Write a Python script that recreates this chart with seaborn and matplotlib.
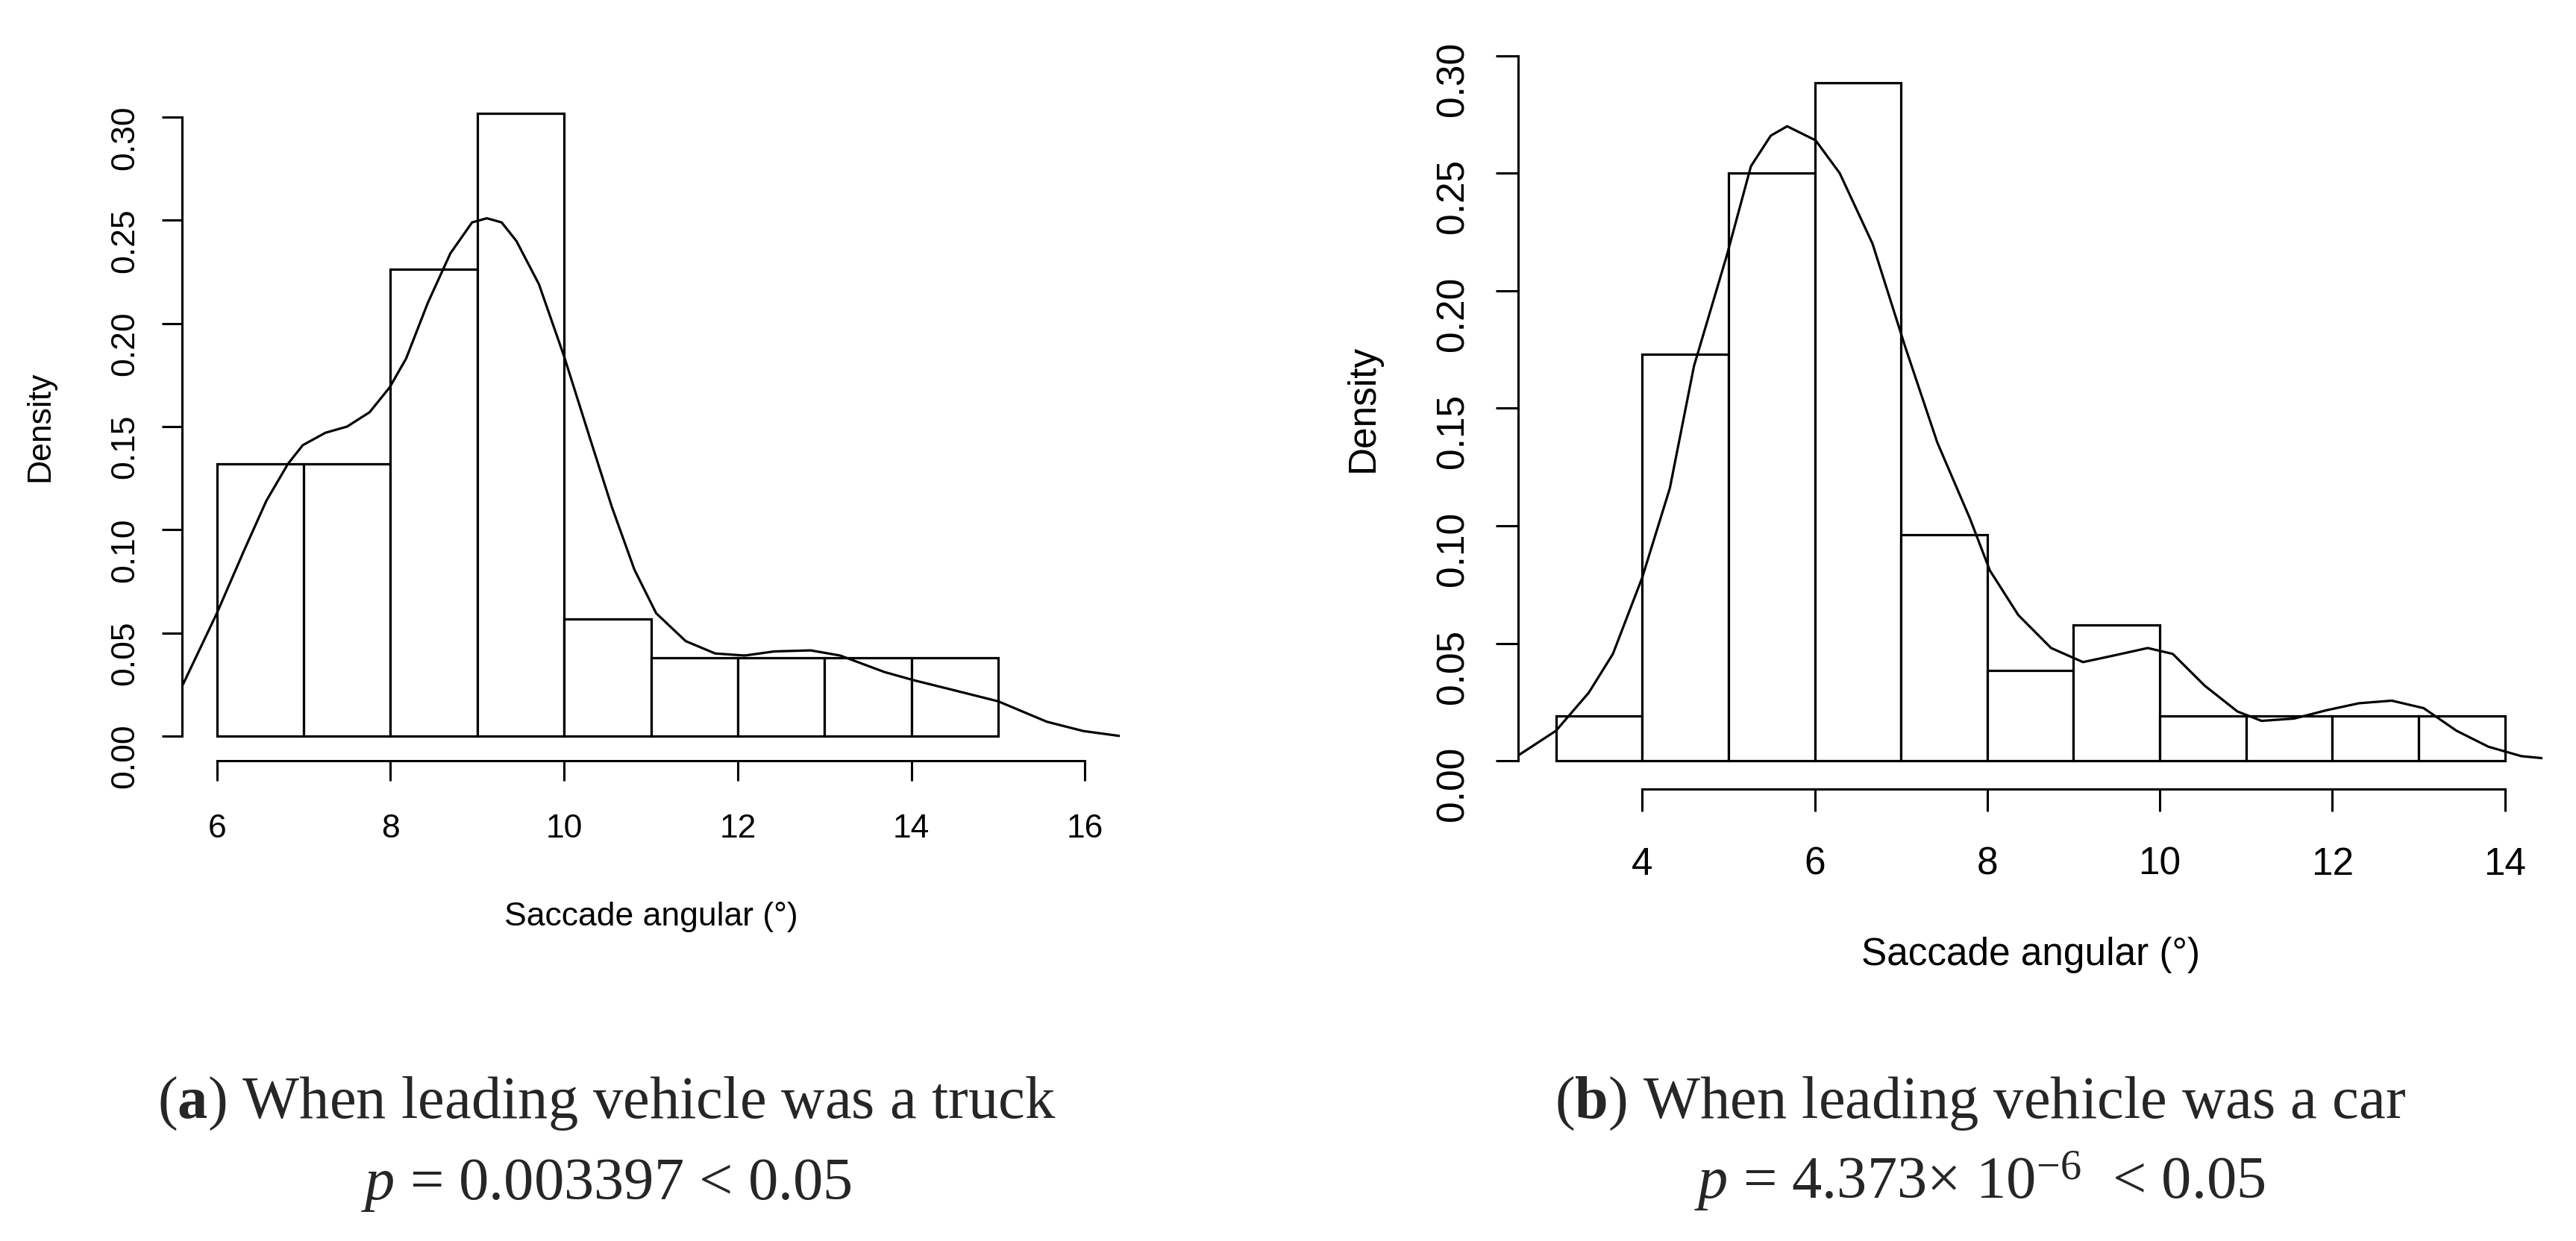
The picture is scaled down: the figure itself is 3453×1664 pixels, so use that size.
import numpy as np
import matplotlib
matplotlib.use("Agg")
import matplotlib.pyplot as plt
import seaborn as sns

# histogram bins (counts per 1-degree bin)
truck_edges = [6, 7, 8, 9, 10, 11, 12, 13, 14, 15]
truck_counts = [7, 7, 12, 16, 3, 2, 2, 2, 2]
car_edges = [3, 4, 5, 6, 7, 8, 9, 10, 11, 12, 13, 14]
car_counts = [1, 9, 13, 15, 5, 2, 3, 1, 1, 1, 1]

# density curves, points
truck_kde_x = [5.61, 6.0, 6.31, 6.57, 6.82, 6.99, 7.25, 7.5, 7.76, 7.99, 8.18, 8.43,
               8.69, 8.94, 9.11, 9.28, 9.45, 9.71, 10.0, 10.3, 10.55, 10.81, 11.06,
               11.4, 11.74, 12.08, 12.42, 12.84, 13.18, 13.69, 14.03, 14.46, 15.0,
               15.56, 15.98, 16.4]
truck_kde_y = [0.025, 0.0595, 0.0896, 0.114, 0.132, 0.141, 0.147, 0.150, 0.157, 0.169,
               0.183, 0.210, 0.234, 0.249, 0.251, 0.249, 0.240, 0.219, 0.184, 0.144,
               0.111, 0.0806, 0.0595, 0.046, 0.040, 0.039, 0.041, 0.0415, 0.039, 0.031,
               0.027, 0.0225, 0.0168, 0.0069, 0.0024, 0.0]
car_kde_x = [2.55, 3.0, 3.38, 3.66, 4.0, 4.32, 4.6, 4.98, 5.26, 5.49, 5.68, 6.01, 6.29,
             6.67, 7.05, 7.42, 7.8, 8.03, 8.36, 8.74, 9.11, 9.49, 9.86, 10.15, 10.52,
             10.9, 11.18, 11.56, 11.93, 12.31, 12.69, 13.06, 13.44, 13.81, 14.19, 14.47]
car_kde_y = [0.002, 0.0128, 0.029, 0.0455, 0.078, 0.116, 0.168, 0.215, 0.253, 0.266,
             0.270, 0.264, 0.250, 0.220, 0.176, 0.1355, 0.103, 0.081, 0.062, 0.048,
             0.042, 0.045, 0.048, 0.0455, 0.032, 0.021, 0.017, 0.018, 0.0215, 0.0245,
             0.0256, 0.0224, 0.0128, 0.006, 0.002, 0.001]

y_ticks = [0.00, 0.05, 0.10, 0.15, 0.20, 0.25, 0.30]
truck_xticks = [6, 8, 10, 12, 14, 16]
car_xticks = [4, 6, 8, 10, 12, 14]

sns.set_theme(style="white")
plt.rcParams['font.family'] = ['Liberation Sans', 'DejaVu Sans']
plt.rcParams['mathtext.fontset'] = 'custom'
plt.rcParams['mathtext.rm'] = 'Liberation Serif'
plt.rcParams['mathtext.it'] = 'Liberation Serif:italic'
plt.rcParams['mathtext.bf'] = 'Liberation Serif:bold'

fig = plt.figure(figsize=(34.53, 16.64), dpi=100)
ax1 = fig.add_axes([0.0707, 0.387, 0.364, 0.5385])
ax2 = fig.add_axes([0.5893, 0.3642, 0.3978, 0.6136])


def panel(ax, edges, counts, kx, ky, xlim, xticks, fs, ticklen, xpad, ypad, xlab_y):
    sns.histplot(x=edges[:-1], weights=counts, bins=edges, stat="density",
                 color="white", edgecolor="black", linewidth=2.3, alpha=1, ax=ax)
    sns.lineplot(x=kx, y=ky, color="black", linewidth=2.3, sort=False, ax=ax)
    ax.set_xlim(*xlim)
    ax.set_ylim(-0.012, 0.312)
    ax.set_xticks(xticks)
    ax.set_yticks(y_ticks)
    ax.set_yticklabels([f"{v:.2f}" for v in y_ticks])
    for s in ["top", "right"]:
        ax.spines[s].set_visible(False)
    ax.spines["left"].set_bounds(0, 0.30)
    ax.spines["bottom"].set_bounds(xticks[0], xticks[-1])
    for s in ["left", "bottom"]:
        ax.spines[s].set_linewidth(2.2)
        ax.spines[s].set_color("black")
    ax.tick_params(axis="both", which="major", length=ticklen, width=2.2,
                   color="black", labelsize=fs, labelcolor="black", direction="out")
    ax.tick_params(axis="x", pad=xpad, bottom=True)
    ax.tick_params(axis="y", pad=ypad, labelrotation=90, left=True)
    ax.set_xlabel("Saccade angular (°)", fontsize=fs, color="black")
    ax.set_ylabel("Density", fontsize=fs, color="black")
    ax.xaxis.label.set_va("center")
    ax.xaxis.set_label_coords(0.5, xlab_y)
    ax.yaxis.label.set_va("center")
    ax.yaxis.set_label_coords(-0.151, 0.5)
    ax.grid(False)


panel(ax1, truck_edges, truck_counts, truck_kde_x, truck_kde_y, (5.6, 16.4),
      truck_xticks, 32, 19.4, 31.7, 20.7, -0.234)
panel(ax2, car_edges, car_counts, car_kde_x, car_kde_y, (2.56, 14.44),
      car_xticks, 37, 21.6, 33.6, 23, -0.218)

# sub-figure captions
cap = 58
fig.text(0.2355, 0.0992, r"($\mathbf{a}$) When leading vehicle was a truck",
         family="Liberation Serif", fontsize=cap, ha="center", va="baseline")
fig.text(0.2355, 0.0337, r"$\mathit{p}$ = 0.003397 < 0.05",
         family="Liberation Serif", fontsize=cap, ha="center", va="baseline")
fig.text(0.7686, 0.0992, r"($\mathbf{b}$) When leading vehicle was a car",
         family="Liberation Serif", fontsize=cap, ha="center", va="baseline")
fig.text(0.7686, 0.0337, r"$\mathit{p}$ = 4.373$\times$ 10$^{-6}$  < 0.05",
         family="Liberation Serif", fontsize=cap, ha="center", va="baseline")

fig.savefig("out.png", dpi=100, facecolor="white")
